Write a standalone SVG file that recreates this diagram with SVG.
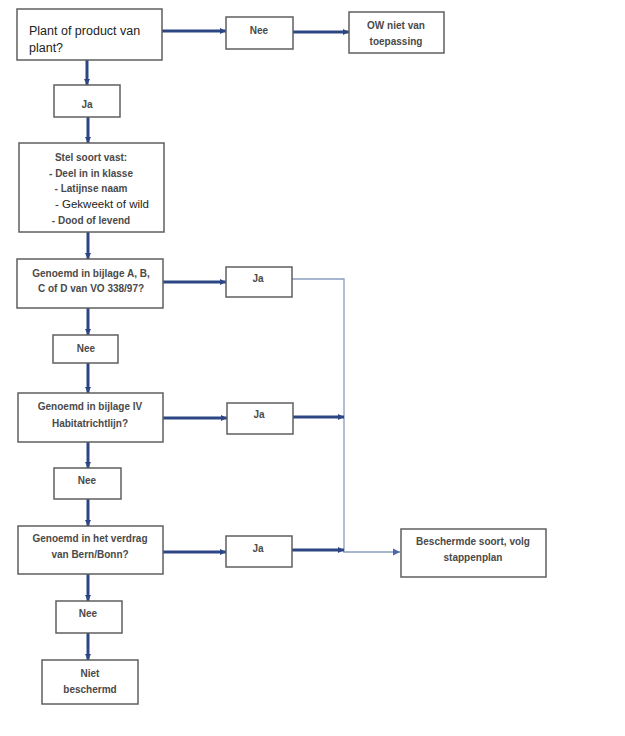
<svg xmlns="http://www.w3.org/2000/svg" width="625" height="736" viewBox="0 0 625 736">
<style>
.box{fill:#fff;stroke:#5f5f5f;stroke-width:1.5}
.t{font-family:"Liberation Sans",Arial,sans-serif;font-size:10px;font-weight:bold;fill:#4a4a4a;text-anchor:middle}
.r{font-family:"Liberation Sans",Arial,sans-serif;fill:#222}
.c{fill:none;stroke:#2c4684;stroke-width:3}
.thin{fill:none;stroke:#8c9dc0;stroke-width:1.3}
</style>
<defs>
<marker id="a" markerUnits="userSpaceOnUse" markerWidth="7" markerHeight="7" refX="6" refY="3.5" orient="auto">
<path d="M0,0.5 L6,3.5 L0,6.5 Z" fill="#2c4684"/>
</marker>
<marker id="b" markerUnits="userSpaceOnUse" markerWidth="8" markerHeight="8" refX="7" refY="4" orient="auto">
<path d="M0,0.5 L7,4 L0,7.5 Z" fill="#4a67a8"/>
</marker>
</defs>
<rect width="625" height="736" fill="#fff"/>
<g id="connectors">
<path class="c" d="M162,31 H226" marker-end="url(#a)"/>
<path class="c" d="M293,32 H349" marker-end="url(#a)"/>
<path class="c" d="M87,60 V85" marker-end="url(#a)"/>
<path class="c" d="M88,117 V143" marker-end="url(#a)"/>
<path class="c" d="M88,232 V259" marker-end="url(#a)"/>
<path class="c" d="M163,282 H226" marker-end="url(#a)"/>
<path class="thin" d="M292,279 H344 V552 H400" marker-end="url(#b)"/>
<path class="c" d="M88,308 V335" marker-end="url(#a)"/>
<path class="c" d="M88,363 V393" marker-end="url(#a)"/>
<path class="c" d="M163,418 H227" marker-end="url(#a)"/>
<path class="c" d="M293,417 H344" marker-end="url(#a)"/>
<path class="c" d="M88,442 V468" marker-end="url(#a)"/>
<path class="c" d="M88,499 V526" marker-end="url(#a)"/>
<path class="c" d="M163,552 H226" marker-end="url(#a)"/>
<path class="c" d="M292,550 H344" marker-end="url(#a)"/>
<path class="c" d="M88,574 V601" marker-end="url(#a)"/>
<path class="c" d="M88,633 V660" marker-end="url(#a)"/>
</g>
<g id="n1">
<rect class="box" x="17" y="9" width="145" height="51"/>
<text class="r" font-size="12.5" x="29" y="35">Plant of product van</text>
<text class="r" font-size="12.5" x="29" y="52">plant?</text>
</g>
<g id="n2">
<rect class="box" x="226" y="17" width="67" height="32"/>
<text class="t" x="259" y="34">Nee</text>
</g>
<g id="n3">
<rect class="box" x="349" y="12" width="95" height="41"/>
<text class="t" x="396" y="29">OW niet van</text>
<text class="t" x="396" y="45">toepassing</text>
</g>
<g id="n4">
<rect class="box" x="54" y="85" width="66" height="32"/>
<text class="t" x="87" y="108">Ja</text>
</g>
<g id="n5">
<rect class="box" x="19" y="143" width="145" height="89"/>
<text class="t" x="91" y="161">Stel soort vast:</text>
<text class="t" x="91" y="177">- Deel in in klasse</text>
<text class="t" x="91" y="192">- Latijnse naam</text>
<text class="r" font-size="11.5" x="55" y="208">-  Gekweekt of wild</text>
<text class="t" x="91" y="224">- Dood of levend</text>
</g>
<g id="n6">
<rect class="box" x="17" y="259" width="146" height="49"/>
<text class="t" x="91" y="277">Genoemd in bijlage A, B,</text>
<text class="t" x="91" y="292">C of D van VO 338/97?</text>
</g>
<g id="n7">
<rect class="box" x="226" y="267" width="66" height="30"/>
<text class="t" x="258" y="282">Ja</text>
</g>
<g id="n8">
<rect class="box" x="53" y="335" width="65" height="28"/>
<text class="t" x="86" y="352">Nee</text>
</g>
<g id="n9">
<rect class="box" x="18" y="393" width="145" height="49"/>
<text class="t" x="90" y="410">Genoemd in bijlage IV</text>
<text class="t" x="90" y="427">Habitatrichtlijn?</text>
</g>
<g id="n10">
<rect class="box" x="227" y="403" width="66" height="31"/>
<text class="t" x="259" y="418">Ja</text>
</g>
<g id="n11">
<rect class="box" x="54" y="468" width="67" height="31"/>
<text class="t" x="87" y="484">Nee</text>
</g>
<g id="n12">
<rect class="box" x="18" y="526" width="145" height="48"/>
<text class="t" x="90" y="542">Genoemd in het verdrag</text>
<text class="t" x="90" y="558">van Bern/Bonn?</text>
</g>
<g id="n13">
<rect class="box" x="226" y="536" width="66" height="31"/>
<text class="t" x="258" y="552">Ja</text>
</g>
<g id="n14">
<rect class="box" x="56" y="601" width="66" height="32"/>
<text class="t" x="88" y="617">Nee</text>
</g>
<g id="n15">
<rect class="box" x="42" y="660" width="96" height="44"/>
<text class="t" x="90" y="677">Niet</text>
<text class="t" x="90" y="693">beschermd</text>
</g>
<g id="n16">
<rect class="box" x="401" y="529" width="145" height="48"/>
<text class="t" x="473" y="545">Beschermde soort, volg</text>
<text class="t" x="473" y="561">stappenplan</text>
</g>
</svg>
